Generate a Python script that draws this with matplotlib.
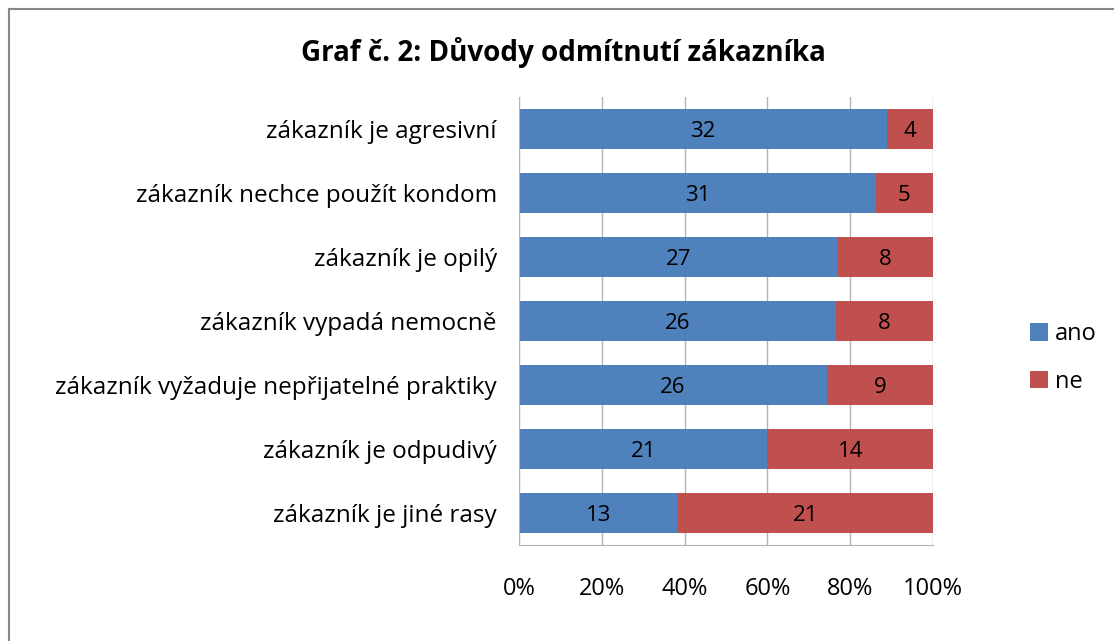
import matplotlib
matplotlib.use('Agg')
import matplotlib.pyplot as plt
from matplotlib.lines import Line2D
import numpy as np

plt.rcParams['font.family'] = ['Open Sans', 'DejaVu Sans']

categories = ['zákazník je agresivní', 'zákazník nechce použít kondom', 'zákazník je opilý',
              'zákazník vypadá nemocně', 'zákazník vyžaduje nepřijatelné praktiky',
              'zákazník je odpudivý', 'zákazník je jiné rasy']
ano = [32, 31, 27, 26, 26, 21, 13]
ne = [4, 5, 8, 8, 9, 14, 21]
ticks = [0, 20, 40, 60, 80, 100]
tick_labels = ['0%', '20%', '40%', '60%', '80%', '100%']

ano_a = np.array(ano, dtype=float)
ne_a = np.array(ne, dtype=float)
total = ano_a + ne_a
ano_p = ano_a / total * 100
ne_p = ne_a / total * 100

W, H = 1114, 641
fig = plt.figure(figsize=(W / 100, H / 100), dpi=100)
ax = fig.add_axes([519 / W, 1 - 545 / H, (933 - 519) / W, (545 - 97) / H])

y = np.arange(len(categories))
blue = '#4F81BD'
red = '#C0504D'
ax.barh(y, ano_p, height=0.64, color=blue, label='ano', zorder=2)
ax.barh(y, ne_p, left=ano_p, height=0.64, color=red, label='ne', zorder=2)

# popisky hodnot uprostred segmentu
for i in range(len(categories)):
    ax.text(ano_p[i] / 2, y[i], str(ano[i]), ha='center', va='center_baseline', fontsize=16, color='black', zorder=3)
    ax.text(ano_p[i] + ne_p[i] / 2, y[i], str(ne[i]), ha='center', va='center_baseline', fontsize=16, color='black', zorder=3)

ax.set_ylim(len(categories) - 0.5, -0.5)
ax.set_xlim(0, 100)
ax.set_yticks(y)
ax.set_yticklabels(categories, fontsize=17.5)
ax.set_xticks(ticks)
ax.set_xticklabels(tick_labels, fontsize=17)
ax.tick_params(axis='y', length=0, pad=16)
ax.tick_params(axis='x', length=0, pad=23)
ax.xaxis.grid(True, color='#b4b4b4', linewidth=1, zorder=0)
ax.set_axisbelow(True)
for s in ['top', 'right']:
    ax.spines[s].set_visible(False)
ax.spines['left'].set_color('#b4b4b4')
ax.spines['bottom'].set_color('#b4b4b4')

fig.text(563 / W, 1 - 52 / H, 'Graf č. 2: Důvody odmítnutí zákazníka', ha='center', va='center',
         fontsize=20, fontweight='bold')

ax.legend(loc='center left', bbox_to_anchor=(1030 / W, 1 - 358 / H), bbox_transform=fig.transFigure,
          frameon=False, fontsize=17, handlelength=0.75, handleheight=0.75, handletextpad=0.3,
          labelspacing=1.0, borderpad=0, borderaxespad=0)

# ramecek grafu (jen horni a leva hrana jsou videt)
fig.add_artist(Line2D([9 / W, 1], [1 - 9 / H, 1 - 9 / H], color='#888888', linewidth=1.5))
fig.add_artist(Line2D([9 / W, 9 / W], [0, 1 - 9 / H], color='#888888', linewidth=1.5))

plt.savefig('out.png', dpi=100)
plt.close(fig)
